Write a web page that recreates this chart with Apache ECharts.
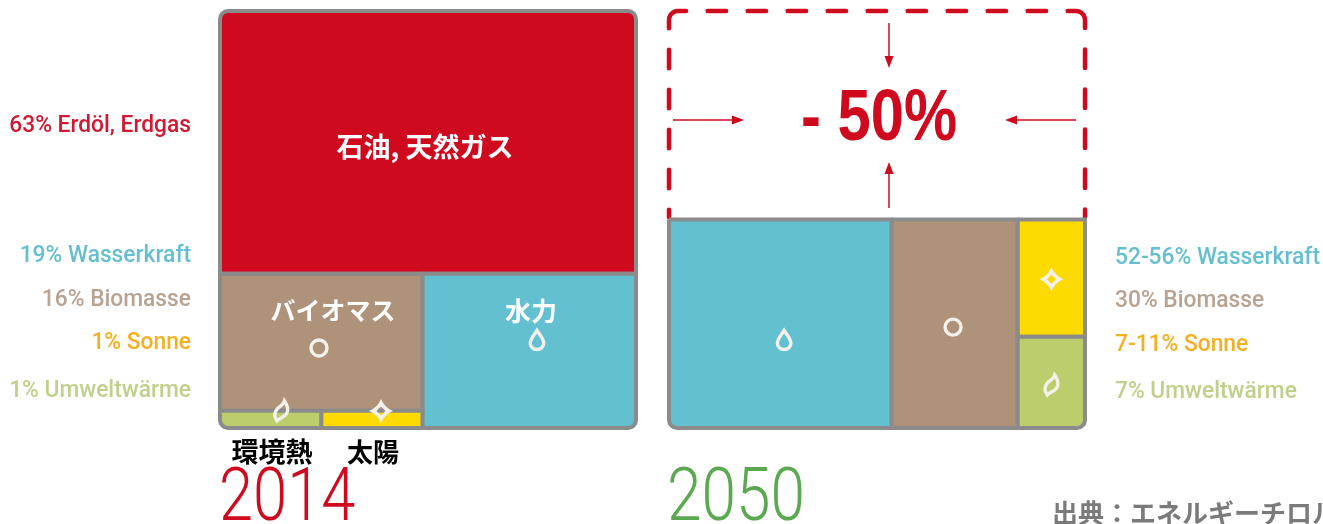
<!DOCTYPE html>
<html>
<head>
<meta charset="utf-8">
<style>html,body{margin:0;padding:0;background:#fff}#chart{width:1323px;height:524px}</style>
<script src="https://cdn.jsdelivr.net/npm/echarts@6/dist/echarts.min.js"></script>
</head>
<body>
<div id="chart"></div>
<script>
// Energy sources, share of total demand, Tyrol
const sources = ['Erdöl, Erdgas', 'Wasserkraft', 'Biomasse', 'Sonne', 'Umweltwärme'];
const shares2014 = [63, 19, 16, 1, 1];
const shareLabels2014 = ['63%', '19%', '16%', '1%', '1%'];
// Sources still in use in 2050, widths normalised to their own sum
const shares2050 = [0, 53, 30, 9, 7];
const shareLabels2050 = ['', '52-56%', '30%', '7-11%', '7%'];
const demandLevel2050 = 50;
const years = ['2014', '2050'];
const reduction = '- 50%';
const namesJa = ['石油, 天然ガス', '水力', 'バイオマス', '太陽', '環境熱'];
const sourceNote = '出典：エネルギーチロル';

const RED = '#cf0a1f', TEAL = '#62c0d1', BROWN = '#ae9279', YELLOW = '#fedb00', GREEN = '#bccd6b';
const fills = [RED, TEAL, BROWN, YELLOW, GREEN];
const textFills = ['#cf1a33', '#66bfcf', '#b8a392', '#f5b021', '#bfd08a'];
const FRAME = '#8b8b8b';
const ICON = '#f4f0ea';
const LATIN = 'Roboto,"Liberation Sans",sans-serif';
const PLAIN = '"Liberation Sans",sans-serif';
const CJK = '"Noto Sans CJK JP",sans-serif';

const sum = a => a.reduce((s, v) => s + v, 0);

// Cells are [x0, x1, y0, y1, sourceIndex] in axis units
function cells2014() {
  const [oil, water, bio, sun, env] = shares2014;
  const rest = water + bio + sun + env;
  const leftShare = bio + sun + env;
  const split = 100 * leftShare / rest;
  const rowTop = rest * (sun + env) / leftShare;
  const envEnd = split * env / (sun + env);
  return [
    [0, 100, rest, 100, 0],
    [split, 100, 0, rest, 1],
    [0, split, rowTop, rest, 2],
    [envEnd, split, 0, rowTop, 3],
    [0, envEnd, 0, rowTop, 4]
  ];
}
function cells2050() {
  const [, water, bio, sun, env] = shares2050;
  const total = water + bio + sun + env;
  const level = demandLevel2050;
  const mid = level * env / (sun + env);
  return [
    [0, water, 0, level, 1],
    [water, water + bio, 0, level, 2],
    [water + bio, total, mid, level, 3],
    [water + bio, total, 0, mid, 4]
  ];
}

const DROP = 'M0,-11C3,-6 7,-2 7,3A7,7 0 0 1 -7,3C-7,-2 -3,-6 0,-11Z';
const STAR = 'M0,-12Q3.5,-3.5 12,0Q3.5,3.5 0,12Q-3.5,3.5 -12,0Q-3.5,-3.5 0,-12ZM0,-4.5L-4.5,0L0,4.5L4.5,0Z';
const LEAF = 'M3,-11C6,-6 7,-1 5,3C3,7 -2,8 -4,11C-7,6 -7,2 -4,-2C-2,-5 2,-6 3,-11Z';

function iconElement(kind, p) {
  const outline = { fill: 'none', stroke: ICON, lineWidth: 3.4 };
  if (kind === 'ring') return { type: 'circle', shape: { cx: p[0], cy: p[1], r: 8 }, style: outline };
  const spec = { drop: [DROP, 13.5, 19], star: [STAR, 24, 24], leaf: [LEAF, 13, 20] }[kind];
  const style = kind === 'star' ? { fill: ICON } : outline;
  return { type: 'path', shape: { pathData: spec[0], x: p[0] - spec[1] / 2, y: p[1] - spec[2] / 2, width: spec[1], height: spec[2], layout: 'cover' }, style };
}

const iconSpots2014 = [['ring', 23.8, 19.2], ['drop', 76.2, 21.1], ['leaf', 14.7, 4.1], ['star', 38.7, 4.1]];
const iconSpots2050 = [['drop', 27.4, 21.1], ['ring', 67.6, 24.2], ['star', 91, 35.7], ['leaf', 91, 10.3]];

function cellSeries(gridIndex, cells, xMax, roundedTop) {
  return {
    type: 'custom', xAxisIndex: gridIndex, yAxisIndex: gridIndex, clip: false, silent: true, z: 3,
    data: cells,
    renderItem(params, api) {
      const c = cells[params.dataIndex];
      const tl = api.coord([c[0], c[3]]), br = api.coord([c[1], c[2]]);
      const R = 8;
      const atL = c[0] === 0, atR = c[1] === xMax, atB = c[2] === 0, atT = roundedTop && c[3] === 100;
      return {
        type: 'rect',
        shape: { x: tl[0], y: tl[1], width: br[0] - tl[0], height: br[1] - tl[1],
          r: [atL && atT ? R : 0, atR && atT ? R : 0, atR && atB ? R : 0, atL && atB ? R : 0] },
        style: { fill: fills[c[4]], stroke: FRAME, lineWidth: 4 }
      };
    }
  };
}

function iconSeries(gridIndex, spots) {
  return {
    type: 'custom', xAxisIndex: gridIndex, yAxisIndex: gridIndex, clip: false, silent: true, z: 5,
    data: spots.map(s => [s[1], s[2]]),
    renderItem(params, api) {
      const s = spots[params.dataIndex];
      return iconElement(s[0], api.coord([s[1], s[2]]));
    }
  };
}

// Dashed outline of the demand that is removed by 2050; dash lengths walk up the left
// edge, over the two rounded corners and down the right edge. Round caps add half a
// line width at each end, so the drawn dashes are shortened by one line width.
function dashedSeries(xMax) {
  return {
    type: 'custom', xAxisIndex: 1, yAxisIndex: 1, clip: false, silent: true, z: 2,
    data: [[0, demandLevel2050, xMax, 100]],
    renderItem(params, api) {
      const a = api.coord([0, demandLevel2050]), b = api.coord([xMax, 100]);
      const r = 9, pts = [[a[0], a[1]]];
      for (let i = 0; i <= 8; i++) { const t = Math.PI * (1 + i / 16); pts.push([a[0] + r + r * Math.cos(t), b[1] + r + r * Math.sin(t)]); }
      for (let i = 0; i <= 8; i++) { const t = Math.PI * (1.5 + i / 16); pts.push([b[0] - r + r * Math.cos(t), b[1] + r + r * Math.sin(t)]); }
      pts.push([b[0], a[1]]);
      const w = 4.5;
      const side = [12, 17, 23, 17, 23, 17, 23, 17, 23, 17];
      const top = [23, 17, 23, 17, 23, 17, 23, 17, 23, 17, 23, 17, 23, 17, 23, 17, 23, 17];
      const dash = side.concat([35, 17], top, [35, 17], [23, 17, 23, 17, 23, 17, 23, 17, 12, 20])
        .map((v, i) => i % 2 === 0 ? v - w : v + w);
      return { type: 'polyline', shape: { points: pts },
        style: { fill: 'none', stroke: RED, lineWidth: w, lineCap: 'round', lineDash: dash, lineDashOffset: -w / 2 } };
    }
  };
}

function label(text, x, y, size, fill, align, family, weight, scaleX) {
  return { type: 'text', z: 10, silent: true, x, y, scaleX: scaleX || 1,
    style: { text, fontSize: size, fontFamily: family, fontWeight: weight || 'normal', fill, align, verticalAlign: 'middle' } };
}
function arrow(x1, y1, x2, y2) {
  const len = Math.hypot(x2 - x1, y2 - y1), ux = (x2 - x1) / len, uy = (y2 - y1) / len;
  const bx = x2 - ux * 12, by = y2 - uy * 12;
  return [
    { type: 'line', z: 6, silent: true, shape: { x1, y1, x2: bx, y2: by }, style: { stroke: RED, lineWidth: 1.5 } },
    { type: 'polygon', z: 6, silent: true, shape: { points: [[x2, y2], [bx - uy * 4.5, by + ux * 4.5], [bx + uy * 4.5, by - ux * 4.5]] }, style: { fill: RED } }
  ];
}

const leftRows = [126, 256, 300, 343, 391];
const rightRows = [0, 258, 301, 345, 392];
const LABEL_SIZE = 23;
const LABEL_SCALE = 0.99;

const graphics = [];
sources.forEach((name, i) => {
  graphics.push(label(shareLabels2014[i] + ' ' + name, 191, leftRows[i], LABEL_SIZE, textFills[i], 'right', LATIN, 500, LABEL_SCALE));
  if (shareLabels2050[i]) graphics.push(label(shareLabels2050[i] + ' ' + name, 1115, rightRows[i], LABEL_SIZE, textFills[i], 'left', LATIN, 500, LABEL_SCALE));
});
graphics.push(label(namesJa[0], 425, 147, 27, '#fff', 'center', CJK, 'bold'));
graphics.push(label(namesJa[1], 531, 311, 26, '#fff', 'center', CJK, 'bold'));
graphics.push(label(namesJa[2], 333, 310, 25, '#fff', 'center', CJK, 'bold'));
graphics.push(label(namesJa[3], 373, 452, 26, '#000', 'center', CJK, 'bold'));
graphics.push(label(namesJa[4], 272, 452, 27, '#000', 'center', CJK, 'bold'));
graphics.push(label(years[0], 219, 501, 74, RED, 'left', LATIN, 300, 0.83));
graphics.push(label(years[1], 667, 501, 74, '#5aa84f', 'left', LATIN, 300, 0.84));
graphics.push(label(reduction, 879, 120, 72, RED, 'center', PLAIN, 'bold', 0.83));
graphics.push(label(sourceNote, 1052, 513, 26, '#7a7a7a', 'left', CJK, 'bold'));
graphics.push(...arrow(889, 23, 889, 68), ...arrow(889, 208, 889, 162), ...arrow(673, 120, 744, 120), ...arrow(1076, 120, 1005, 120));

const max2050 = sum(shares2050);
const hiddenAxis = { show: false };
const chart = echarts.init(document.getElementById('chart'), null, { renderer: 'canvas' });
chart.setOption({
  animation: false,
  backgroundColor: '#fff',
  grid: [
    { left: 220, top: 11, width: 416, height: 417 },
    { left: 669, top: 11, width: 416, height: 417 }
  ],
  xAxis: [
    { type: 'value', gridIndex: 0, min: 0, max: 100, ...hiddenAxis },
    { type: 'value', gridIndex: 1, min: 0, max: max2050, ...hiddenAxis }
  ],
  yAxis: [
    { type: 'value', gridIndex: 0, min: 0, max: 100, ...hiddenAxis },
    { type: 'value', gridIndex: 1, min: 0, max: 100, ...hiddenAxis }
  ],
  series: [
    cellSeries(0, cells2014(), 100, true),
    dashedSeries(max2050),
    cellSeries(1, cells2050(), max2050, false),
    iconSeries(0, iconSpots2014),
    iconSeries(1, iconSpots2050)
  ],
  graphic: { elements: graphics }
});
</script>
</body>
</html>
